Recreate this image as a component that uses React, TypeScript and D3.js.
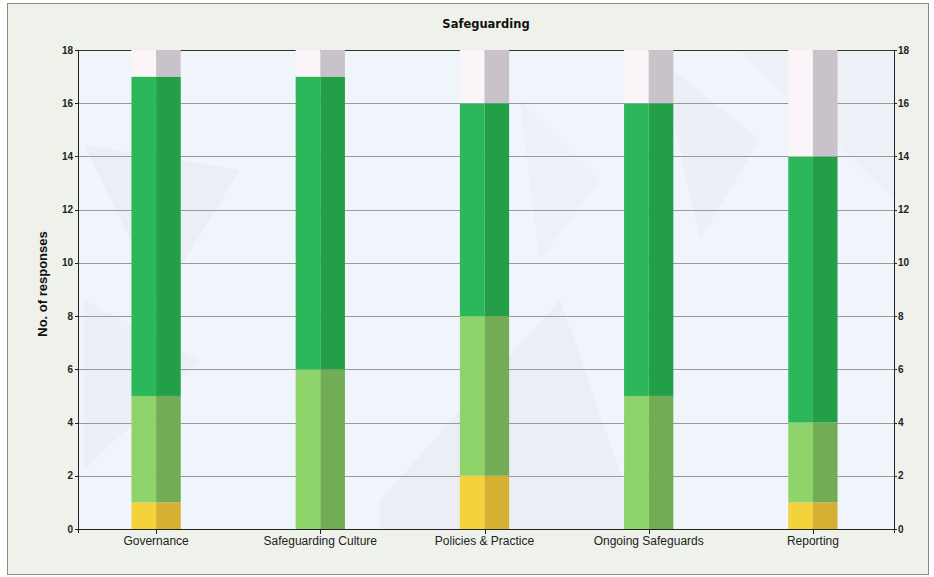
import React from "react";
import * as d3 from "d3";

const categories = ["Governance", "Safeguarding Culture", "Policies & Practice", "Ongoing Safeguards", "Reporting"];
const yellowValues = [1, 0, 2, 0, 1];
const lightGreenValues = [4, 6, 6, 5, 3];
const darkGreenValues = [12, 11, 8, 11, 10];
const remainderValues = [1, 1, 2, 2, 4];
const yTicks = [0, 2, 4, 6, 8, 10, 12, 14, 16, 18];

const W = 934;
const H = 577;
const plot = { left: 78, right: 894, top: 50, bottom: 529 };

const keys = ["yellow", "lightGreen", "darkGreen", "remainder"];
const colorsLeft: Record<string, string> = {
  yellow: "#f4d23c",
  lightGreen: "#8ed46a",
  darkGreen: "#2cb75a",
  remainder: "#fbf5f9",
};
const colorsRight: Record<string, string> = {
  yellow: "#d6b033",
  lightGreen: "#72ad55",
  darkGreen: "#23a047",
  remainder: "#c9c3c9",
};

export default function App() {
  const rows = categories.map((c, i) => ({
    cat: c,
    yellow: yellowValues[i],
    lightGreen: lightGreenValues[i],
    darkGreen: darkGreenValues[i],
    remainder: remainderValues[i],
  }));
  const stack = d3.stack<any>().keys(keys)(rows);

  const x = d3.scaleBand<string>().domain(categories).range([74, 895]).paddingInner(0.7).paddingOuter(0.35);
  const y = d3.scaleLinear().domain([0, 18]).range([plot.bottom, plot.top]);
  const bw = x.bandwidth();

  return (
    <svg width={W} height={H} style={{ display: "block", position: "absolute", left: 0, top: 0 }}>
      <rect x={0} y={0} width={W} height={H} fill="#ffffff" />
      <rect x={7.5} y={3.5} width={921} height={571} fill="#eef2ea" stroke="#8a8a8a" strokeWidth={1} />
      {/* plot background */}
      <rect x={plot.left} y={plot.top} width={plot.right - plot.left} height={plot.bottom - plot.top} fill="#f0f4fb" />
      <g opacity={0.4}>
        <polygon points="84,145 240,170 160,300" fill="#e3e5ec" />
        <polygon points="84,300 200,360 84,470" fill="#e9eaf1" />
        <polygon points="380,500 560,300 640,529 380,529" fill="#e4e6ed" />
        <polygon points="660,60 760,140 700,240" fill="#e6e9f0" />
        <polygon points="740,50 894,50 894,200" fill="#e8ecf3" />
        <polygon points="520,100 600,180 540,260" fill="#e9ebf2" />
      </g>
      {/* gridlines */}
      {yTicks.filter((t) => t > 0 && t < 18).map((t) => (
        <line key={t} x1={plot.left} x2={plot.right} y1={Math.round(y(t)) + 0.5} y2={Math.round(y(t)) + 0.5} stroke="#9a9a9a" strokeWidth={1} />
      ))}
      <line x1={plot.left} x2={plot.right} y1={y(18) + 0.5} y2={y(18) + 0.5} stroke="#333" strokeWidth={1.2} />
      {/* bars */}
      {stack.map((s) => (
        <g key={s.key}>
          {s.map((d, i) => {
            const x0 = x(categories[i])!;
            const yTop = y(d[1]);
            const h = y(d[0]) - y(d[1]);
            if (h <= 0) return null;
            return (
              <g key={i}>
                <rect x={x0} y={yTop} width={bw / 2} height={h} fill={colorsLeft[s.key]} />
                <rect x={x0 + bw / 2} y={yTop} width={bw / 2} height={h} fill={colorsRight[s.key]} />
              </g>
            );
          })}
        </g>
      ))}
      {/* axes */}
      <line x1={plot.left + 0.5} x2={plot.left + 0.5} y1={plot.top} y2={plot.bottom + 4} stroke="#222" />
      <line x1={plot.right + 0.5} x2={plot.right + 0.5} y1={plot.top} y2={plot.bottom + 4} stroke="#222" />
      <line x1={plot.left} x2={plot.right} y1={plot.bottom + 0.5} y2={plot.bottom + 0.5} stroke="#222" />
      {yTicks.map((t) => (
        <g key={t}>
          <line x1={plot.left - 3} x2={plot.left} y1={Math.round(y(t)) + 0.5} y2={Math.round(y(t)) + 0.5} stroke="#222" />
          <line x1={plot.right} x2={plot.right + 3} y1={Math.round(y(t)) + 0.5} y2={Math.round(y(t)) + 0.5} stroke="#222" />
          <text x={plot.left - 5} y={y(t)} dy="0.35em" textAnchor="end" fontFamily="Liberation Sans, Arial, sans-serif" fontWeight="bold" fontSize={10} fill="#222">{t}</text>
          <text x={plot.right + 4} y={y(t)} dy="0.35em" textAnchor="start" fontFamily="Liberation Sans, Arial, sans-serif" fontWeight="bold" fontSize={10} fill="#222">{t}</text>
        </g>
      ))}
      {categories.map((c) => {
        const cx = x(c)! + bw / 2;
        return (
          <g key={c}>
            <line x1={Math.round(cx) + 0.5} x2={Math.round(cx) + 0.5} y1={plot.bottom} y2={plot.bottom + 5} stroke="#222" />
            <text x={cx} y={545} textAnchor="middle" fontFamily="Liberation Sans, Arial, sans-serif" fontSize={12} fill="#222">{c}</text>
          </g>
        );
      })}
      <text x={486} y={28} textAnchor="middle" fontFamily="DejaVu Sans, Verdana, sans-serif" fontWeight="bold" fontSize={11.5} fill="#111">Safeguarding</text>
      <text transform={`translate(47,${284}) rotate(-90)`} textAnchor="middle" fontFamily="Liberation Sans, Arial, sans-serif" fontWeight="bold" fontSize={13} fill="#111">No. of responses</text>
    </svg>
  );
}
